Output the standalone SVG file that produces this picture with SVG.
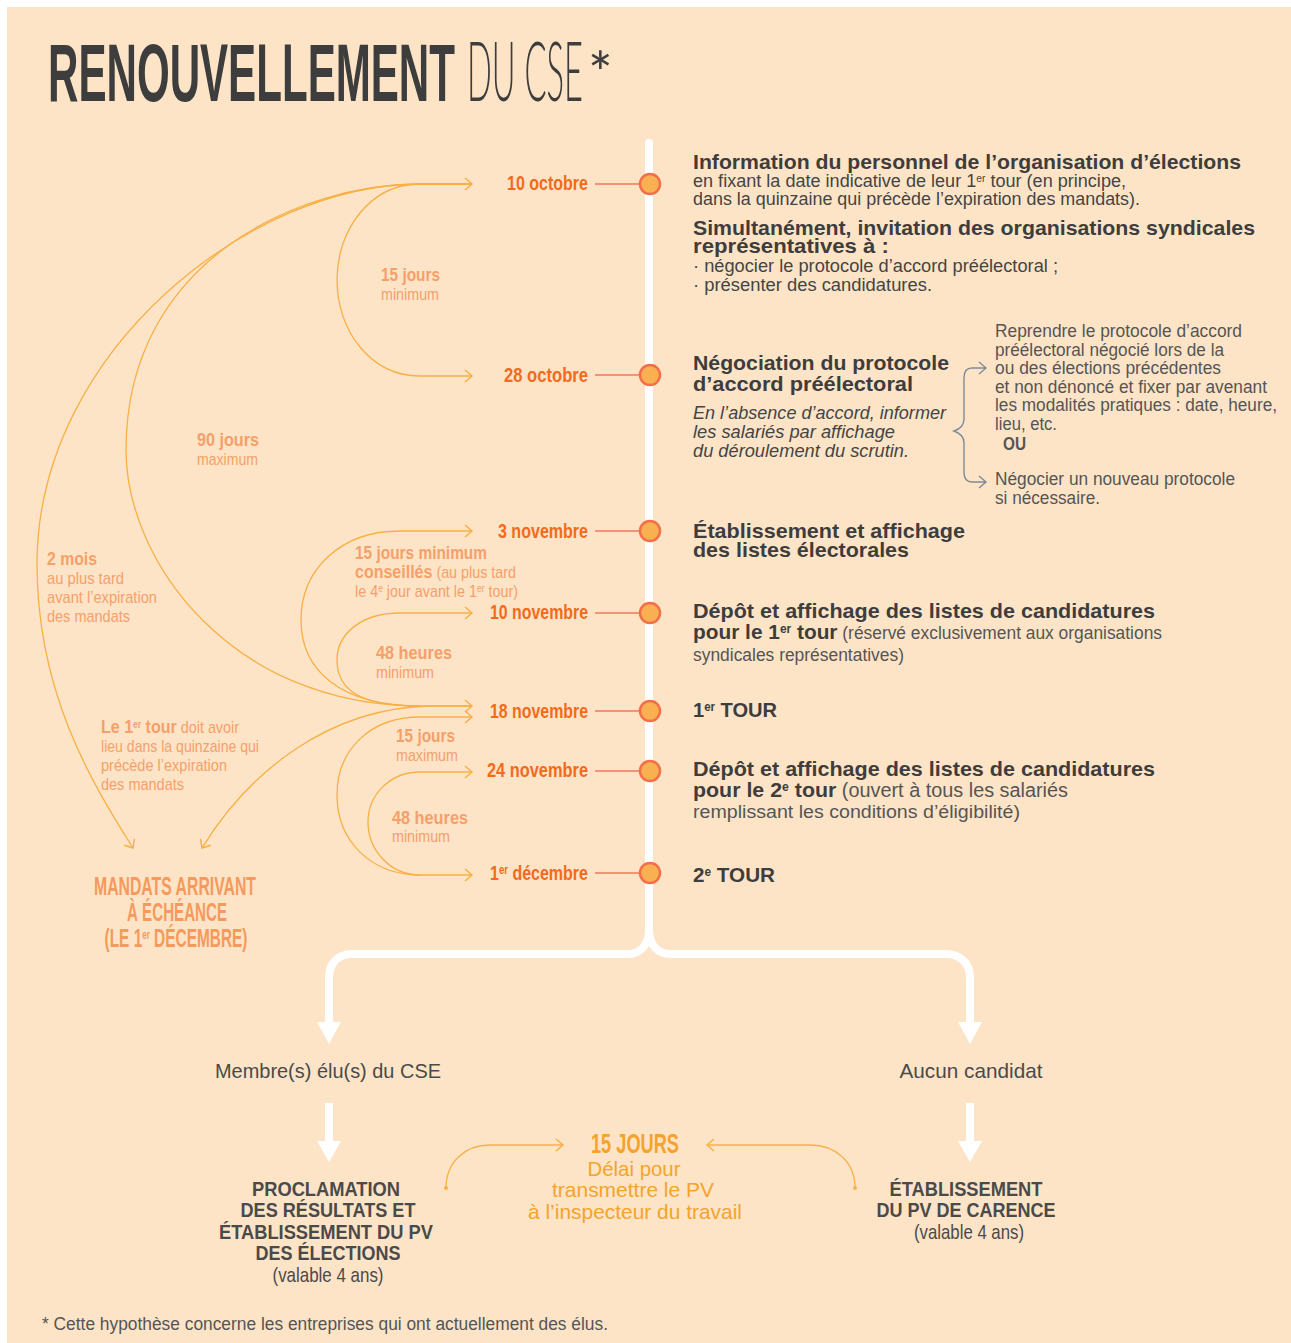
<svg xmlns="http://www.w3.org/2000/svg" xmlns:xlink="http://www.w3.org/1999/xlink" width="1291" height="1343" viewBox="0 0 1291 1343">
<style>
text{font-family:'Liberation Sans',Arial,sans-serif}
.t{fill:#3d3d3d;font-weight:700}
.h{fill:#3d3d3d;font-weight:700;font-size:21px}
.r{fill:#444;font-size:17.5px}
.it{fill:#444;font-size:17.5px;font-style:italic}
.g{fill:#555;font-size:17.5px}
.b{font-weight:700}
.n{font-weight:400}
.d{fill:#F26B1D;font-weight:700;font-size:20px;text-anchor:end}
.l{fill:#F5A06A;font-size:17px}
.lb{fill:#F5A06A;font-size:19px;font-weight:700}
.m{fill:#F59A5C;font-size:25px;font-weight:700;text-anchor:middle}
.bt{fill:#4a4a4a;font-size:21px;text-anchor:middle}
.bb{fill:#4a4a4a;font-size:21px;font-weight:700;text-anchor:middle}
.o{fill:#F5A32C;text-anchor:middle}
.arc{fill:none;stroke:#F8B045;stroke-width:1.3}
.wl{fill:none;stroke:#fff;stroke-width:8}
.cn{stroke:#F3795A;stroke-width:1.6}
.dot{fill:#F9B050;stroke:#F36F4A;stroke-width:2.5}
.br{fill:none;stroke:#7D8A99;stroke-width:1.4}
</style>
<defs>
<path id="chev" d="M-7,-6 L0,0 L-7,6" fill="none" stroke="#F8B045" stroke-width="1.5"/>
<path id="chevg" d="M-7,-6 L0,0 L-7,6" fill="none" stroke="#7D8A99" stroke-width="1.4"/>
</defs>
<rect x="7" y="7" width="1290" height="1340" fill="#FDE4C7"/>

<g id="title">
<text class="t" x="48" y="101" font-size="82" textLength="407" lengthAdjust="spacingAndGlyphs">RENOUVELLEMENT</text>
<text x="467" y="101" font-size="82" fill="#3d3d3d" font-weight="300" style="font-family:Lato,'Open Sans','Liberation Sans',sans-serif" textLength="116" lengthAdjust="spacingAndGlyphs">DU CSE</text>
<text x="588" y="94" font-size="58" fill="#3d3d3d" font-weight="400" style="font-family:Lato,'Open Sans','Liberation Sans',sans-serif">*</text>
</g>

<g id="timeline">
<path class="wl" d="M649,143 V930 C649,945 640,954 628,954 H352 C338,954 329,963 329,978 V1026" stroke-linecap="round"/>
<path class="wl" d="M649,930 C649,945 658,954 670,954 H946 C960,954 970,963 970,978 V1026"/>
<polygon points="317,1022 341,1022 329,1044" fill="#fff"/>
<polygon points="958,1022 982,1022 970,1044" fill="#fff"/>
<line class="wl" x1="329" y1="1103" x2="329" y2="1144"/>
<line class="wl" x1="970" y1="1103" x2="970" y2="1144"/>
<polygon points="317,1141 341,1141 329,1162" fill="#fff"/>
<polygon points="958,1141 982,1141 970,1162" fill="#fff"/>
</g>

<g id="connectors">
<path class="arc" d="M472,184 H420 C370,184 337,230 337,280 C337,330 370,376 420,376 H472"/>
<path class="arc" d="M472,184 H420 C300,184 126,260 126,450 C126,560 230,706 420,706 H472"/>
<path class="arc" d="M472,184 H420 C250,184 40,350 37,560 C36,690 90,780 133,848"/>
<path class="arc" d="M472,531 H400 C340,531 301,570 301,620 C301,670 340,706 420,706"/>
<path class="arc" d="M472,613 H400 C360,613 337,635 337,660 C337,690 360,706 420,706"/>
<path class="arc" d="M472,706 H430 C330,708 250,770 202,848"/>
<path class="arc" d="M472,717 H420 C370,717 337,750 337,795 C337,840 370,875 420,875 H472"/>
<path class="arc" d="M472,772 H420 C390,772 368,795 368,822 C368,850 390,875 420,875"/>
<use href="#chev" x="472" y="184"/>
<use href="#chev" x="472" y="376"/>
<use href="#chev" x="472" y="531"/>
<use href="#chev" x="472" y="613"/>
<use href="#chev" x="472" y="706"/>
<use href="#chev" x="472" y="717"/>
<use href="#chev" x="472" y="772"/>
<use href="#chev" x="472" y="875"/>
<use href="#chev" transform="translate(133,848) rotate(57.7)"/>
<use href="#chev" transform="translate(202,848) rotate(121.6)"/>
<path class="arc" d="M446,1188 C446,1162 465,1145 490,1145 H563"/>
<path class="arc" d="M855,1188 C855,1162 836,1145 810,1145 H707"/>
<circle cx="446" cy="1188" r="2" fill="#F8B045"/>
<circle cx="855" cy="1188" r="2" fill="#F8B045"/>
<use href="#chev" x="563" y="1145"/>
<use href="#chev" transform="translate(707,1145) rotate(180)"/>
<path class="br" d="M986,368 H972 C966,368 964,372 964,378 V419 C964,426 960,429 954,431 C960,433 964,436 964,443 V472 C964,478 966,482 972,482 H986"/>
<use href="#chevg" x="986" y="368"/>
<use href="#chevg" x="986" y="482"/>
</g>

<g id="dates">
<line class="cn" x1="595" y1="184" x2="640" y2="184"/>
<line class="cn" x1="595" y1="375" x2="640" y2="375"/>
<line class="cn" x1="595" y1="531" x2="640" y2="531"/>
<line class="cn" x1="595" y1="613" x2="640" y2="613"/>
<line class="cn" x1="595" y1="711" x2="640" y2="711"/>
<line class="cn" x1="595" y1="771" x2="640" y2="771"/>
<line class="cn" x1="595" y1="873" x2="640" y2="873"/>
<circle class="dot" cx="650" cy="184" r="10"/>
<circle class="dot" cx="650" cy="375" r="10"/>
<circle class="dot" cx="650" cy="531" r="10"/>
<circle class="dot" cx="650" cy="613" r="10"/>
<circle class="dot" cx="650" cy="711" r="10"/>
<circle class="dot" cx="650" cy="771" r="10"/>
<circle class="dot" cx="650" cy="873" r="10"/>
<text class="d" x="588" y="190" textLength="81" lengthAdjust="spacingAndGlyphs">10 octobre</text>
<text class="d" x="588" y="382" textLength="84" lengthAdjust="spacingAndGlyphs">28 octobre</text>
<text class="d" x="588" y="538" textLength="90" lengthAdjust="spacingAndGlyphs">3 novembre</text>
<text class="d" x="588" y="619" textLength="98" lengthAdjust="spacingAndGlyphs">10 novembre</text>
<text class="d" x="588" y="718" textLength="98" lengthAdjust="spacingAndGlyphs">18 novembre</text>
<text class="d" x="588" y="777" textLength="101" lengthAdjust="spacingAndGlyphs">24 novembre</text>
<text class="d" x="588" y="880" textLength="98" lengthAdjust="spacingAndGlyphs">1<tspan dy="-6" font-size="12">er</tspan><tspan dy="6"> décembre</tspan></text>
</g>

<g id="labels-left">
<text class="lb" x="381" y="281" textLength="59" lengthAdjust="spacingAndGlyphs">15 jours</text>
<text class="l" x="381" y="300" textLength="58" lengthAdjust="spacingAndGlyphs">minimum</text>
<text class="lb" x="197" y="446" textLength="62" lengthAdjust="spacingAndGlyphs">90 jours</text>
<text class="l" x="197" y="465" textLength="61" lengthAdjust="spacingAndGlyphs">maximum</text>
<text class="lb" x="47" y="565" textLength="50" lengthAdjust="spacingAndGlyphs">2 mois</text>
<text class="l" x="47" y="584" textLength="77" lengthAdjust="spacingAndGlyphs">au plus tard</text>
<text class="l" x="47" y="603" textLength="110" lengthAdjust="spacingAndGlyphs">avant l’expiration</text>
<text class="l" x="47" y="622" textLength="83" lengthAdjust="spacingAndGlyphs">des mandats</text>
<text class="lb" x="355" y="559" textLength="132" lengthAdjust="spacingAndGlyphs">15 jours minimum</text>
<text class="l" x="355" y="578" textLength="161" lengthAdjust="spacingAndGlyphs"><tspan class="b" font-size="19">conseillés</tspan> (au plus tard</text>
<text class="l" x="355" y="597" textLength="163" lengthAdjust="spacingAndGlyphs">le 4<tspan dy="-5" font-size="10">e</tspan><tspan dy="5"> jour avant le 1</tspan><tspan dy="-5" font-size="10">er</tspan><tspan dy="5"> tour)</tspan></text>
<text class="lb" x="376" y="659" textLength="76" lengthAdjust="spacingAndGlyphs">48 heures</text>
<text class="l" x="376" y="678" textLength="58" lengthAdjust="spacingAndGlyphs">minimum</text>
<text class="l" x="101" y="733" textLength="138" lengthAdjust="spacingAndGlyphs"><tspan class="b" font-size="19">Le 1</tspan><tspan class="b" dy="-5" font-size="10">er</tspan><tspan class="b" dy="5" font-size="19"> tour</tspan> doit avoir</text>
<text class="l" x="101" y="752" textLength="158" lengthAdjust="spacingAndGlyphs">lieu dans la quinzaine qui</text>
<text class="l" x="101" y="771" textLength="126" lengthAdjust="spacingAndGlyphs">précède l’expiration</text>
<text class="l" x="101" y="790" textLength="83" lengthAdjust="spacingAndGlyphs">des mandats</text>
<text class="lb" x="396" y="742" textLength="59" lengthAdjust="spacingAndGlyphs">15 jours</text>
<text class="l" x="396" y="761" textLength="62" lengthAdjust="spacingAndGlyphs">maximum</text>
<text class="lb" x="392" y="824" textLength="76" lengthAdjust="spacingAndGlyphs">48 heures</text>
<text class="l" x="392" y="842" textLength="58" lengthAdjust="spacingAndGlyphs">minimum</text>
</g>

<g id="mandats">
<text class="m" x="175" y="895" textLength="162" lengthAdjust="spacingAndGlyphs">MANDATS ARRIVANT</text>
<text class="m" x="177" y="921" textLength="100" lengthAdjust="spacingAndGlyphs">À ÉCHÉANCE</text>
<text class="m" x="176" y="947" textLength="143" lengthAdjust="spacingAndGlyphs">(LE 1<tspan dy="-8" font-size="13">er</tspan><tspan dy="8"> DÉCEMBRE)</tspan></text>
</g>

<g id="step-information">
<text class="h" x="693" y="169" textLength="548" lengthAdjust="spacingAndGlyphs">Information du personnel de l’organisation d’élections</text>
<text class="r" x="693" y="187" textLength="433" lengthAdjust="spacingAndGlyphs">en fixant la date indicative de leur 1<tspan dy="-5" font-size="10">er</tspan><tspan dy="5"> tour (en principe,</tspan></text>
<text class="r" x="693" y="205" textLength="447" lengthAdjust="spacingAndGlyphs">dans la quinzaine qui précède l’expiration des mandats).</text>
<text class="h" x="693" y="235" textLength="562" lengthAdjust="spacingAndGlyphs">Simultanément, invitation des organisations syndicales</text>
<text class="h" x="693" y="253" textLength="196" lengthAdjust="spacingAndGlyphs">représentatives à :</text>
<text class="r" x="693" y="272" textLength="365" lengthAdjust="spacingAndGlyphs">· négocier le protocole d’accord préélectoral ;</text>
<text class="r" x="693" y="291" textLength="239" lengthAdjust="spacingAndGlyphs">· présenter des candidatures.</text>
</g>

<g id="step-negociation">
<text class="h" x="693" y="370" textLength="256" lengthAdjust="spacingAndGlyphs">Négociation du protocole</text>
<text class="h" x="693" y="391" textLength="220" lengthAdjust="spacingAndGlyphs">d’accord préélectoral</text>
<text class="it" x="693" y="419" textLength="253" lengthAdjust="spacingAndGlyphs">En l’absence d’accord, informer</text>
<text class="it" x="693" y="438" textLength="202" lengthAdjust="spacingAndGlyphs">les salariés par affichage</text>
<text class="it" x="693" y="457" textLength="216" lengthAdjust="spacingAndGlyphs">du déroulement du scrutin.</text>
<text class="g" x="995" y="337" textLength="247" lengthAdjust="spacingAndGlyphs">Reprendre le protocole d’accord</text>
<text class="g" x="995" y="356" textLength="229" lengthAdjust="spacingAndGlyphs">préélectoral négocié lors de la</text>
<text class="g" x="995" y="374" textLength="226" lengthAdjust="spacingAndGlyphs">ou des élections précédentes</text>
<text class="g" x="995" y="393" textLength="272" lengthAdjust="spacingAndGlyphs">et non dénoncé et fixer par avenant</text>
<text class="g" x="995" y="411" textLength="282" lengthAdjust="spacingAndGlyphs">les modalités pratiques : date, heure,</text>
<text class="g" x="995" y="430" textLength="62" lengthAdjust="spacingAndGlyphs">lieu, etc.</text>
<text class="g b" x="1003" y="450" textLength="23" lengthAdjust="spacingAndGlyphs">OU</text>
<text class="g" x="995" y="485" textLength="240" lengthAdjust="spacingAndGlyphs">Négocier un nouveau protocole</text>
<text class="g" x="995" y="504" textLength="105" lengthAdjust="spacingAndGlyphs">si nécessaire.</text>
</g>

<g id="step-listes">
<text class="h" x="693" y="538" textLength="272" lengthAdjust="spacingAndGlyphs">Établissement et affichage</text>
<text class="h" x="693" y="557" textLength="216" lengthAdjust="spacingAndGlyphs">des listes électorales</text>
</g>

<g id="step-depot1">
<text class="h" x="693" y="618" textLength="462" lengthAdjust="spacingAndGlyphs">Dépôt et affichage des listes de candidatures</text>
<text class="h" x="693" y="639" textLength="469" lengthAdjust="spacingAndGlyphs">pour le 1<tspan dy="-6" font-size="12">er</tspan><tspan dy="6"> tour</tspan><tspan class="n" fill="#555" font-size="17.5"> (réservé exclusivement aux organisations</tspan></text>
<text class="g" x="693" y="661" font-size="18.5" textLength="211" lengthAdjust="spacingAndGlyphs">syndicales représentatives)</text>
</g>

<g id="step-tour1">
<text class="h" x="693" y="717" textLength="84" lengthAdjust="spacingAndGlyphs">1<tspan dy="-6" font-size="12">er</tspan><tspan dy="6"> TOUR</tspan></text>
</g>

<g id="step-depot2">
<text class="h" x="693" y="776" textLength="462" lengthAdjust="spacingAndGlyphs">Dépôt et affichage des listes de candidatures</text>
<text class="h" x="693" y="797" textLength="375" lengthAdjust="spacingAndGlyphs">pour le 2<tspan dy="-6" font-size="12">e</tspan><tspan dy="6"> tour</tspan><tspan class="n" fill="#555" font-size="19.5"> (ouvert à tous les salariés</tspan></text>
<text class="g" x="693" y="818" textLength="327" lengthAdjust="spacingAndGlyphs" font-size="19.5">remplissant les conditions d’éligibilité)</text>
</g>

<g id="step-tour2">
<text class="h" x="693" y="882" textLength="82" lengthAdjust="spacingAndGlyphs">2<tspan dy="-6" font-size="12">e</tspan><tspan dy="6"> TOUR</tspan></text>
</g>

<g id="result-elus">
<text class="bt" x="328" y="1078" textLength="226" lengthAdjust="spacingAndGlyphs">Membre(s) élu(s) du CSE</text>
</g>
<g id="result-aucun">
<text class="bt" x="971" y="1078" textLength="143" lengthAdjust="spacingAndGlyphs">Aucun candidat</text>
</g>
<g id="proclamation">
<text class="bb" x="326" y="1196" textLength="148" lengthAdjust="spacingAndGlyphs">PROCLAMATION</text>
<text class="bb" x="328" y="1217" textLength="175" lengthAdjust="spacingAndGlyphs">DES RÉSULTATS ET</text>
<text class="bb" x="326" y="1239" textLength="214" lengthAdjust="spacingAndGlyphs">ÉTABLISSEMENT DU PV</text>
<text class="bb" x="328" y="1260" textLength="145" lengthAdjust="spacingAndGlyphs">DES ÉLECTIONS</text>
<text class="bt" x="328" y="1282" font-size="18" textLength="111" lengthAdjust="spacingAndGlyphs">(valable 4 ans)</text>
</g>
<g id="delai">
<text class="o b" x="635" y="1153" font-size="28" textLength="88" lengthAdjust="spacingAndGlyphs">15 JOURS</text>
<text class="o" x="634" y="1176" font-size="21" textLength="93" lengthAdjust="spacingAndGlyphs">Délai pour</text>
<text class="o" x="633" y="1197" font-size="21" textLength="162" lengthAdjust="spacingAndGlyphs">transmettre le PV</text>
<text class="o" x="635" y="1219" font-size="21" textLength="214" lengthAdjust="spacingAndGlyphs">à l’inspecteur du travail</text>
</g>
<g id="carence">
<text class="bb" x="966" y="1196" textLength="153" lengthAdjust="spacingAndGlyphs">ÉTABLISSEMENT</text>
<text class="bb" x="966" y="1217" textLength="179" lengthAdjust="spacingAndGlyphs">DU PV DE CARENCE</text>
<text class="bt" x="969" y="1239" font-size="18" textLength="110" lengthAdjust="spacingAndGlyphs">(valable 4 ans)</text>
</g>

<g id="footnote">
<text x="42" y="1330" fill="#555" font-size="18" textLength="566" lengthAdjust="spacingAndGlyphs">* Cette hypothèse concerne les entreprises qui ont actuellement des élus.</text>
</g>
</svg>
